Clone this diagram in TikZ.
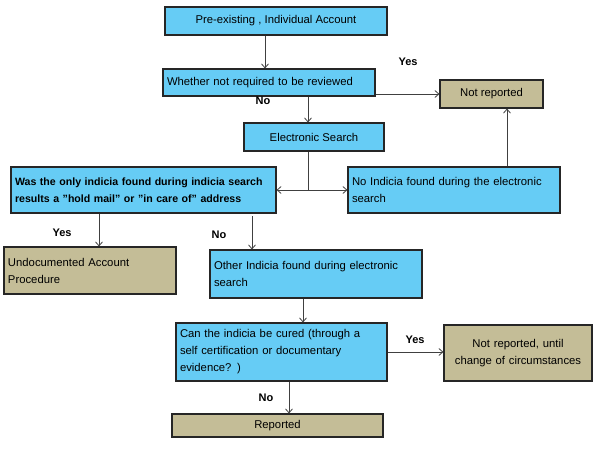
\documentclass[tikz,border=0pt]{standalone}
\usepackage{fontspec}
\setmainfont{Liberation Sans}
\usetikzlibrary{arrows.meta}
\definecolor{bl}{RGB}{102,204,245}
\definecolor{tn}{RGB}{196,189,151}
\begin{document}
\begin{tikzpicture}[x=1pt,y=-1pt,
  box/.style={draw=black!85,line width=1.1pt,inner sep=4pt,font=\fontsize{11.3}{17}\selectfont},
  bbox/.style={box,fill=bl},
  tbox/.style={box,fill=tn},
  arr/.style={draw=black!75,line width=0.8pt,-{Straight Barb[length=4pt,width=7pt]}},
  lab/.style={font=\fontsize{11}{13}\selectfont\bfseries}]
\useasboundingbox (0,0) rectangle (600,452);
\node[bbox,minimum width=222,minimum height=28] (pre) at (276,21) {Pre-existing , Individual Account};
\node[bbox,minimum width=212,minimum height=27,text width=204,align=left] (wh) at (269,82.5) {Whether not required to be reviewed};
\node[tbox,minimum width=103,minimum height=28] (nr) at (491.5,94) {Not reported};
\node[bbox,minimum width=140,minimum height=28] (es) at (314,137) {Electronic Search};
\node[bbox,minimum width=263,minimum height=46,text width=257,align=left,font=\fontsize{10.6}{17}\selectfont\bfseries] (was) at (143.5,190) {Was the only indicia found during indicia search\\results a "hold mail" or "in care of" address};
\node[bbox,minimum width=212,minimum height=46,text width=204,align=left] (noi) at (454,190) {No Indicia found during the electronic\\search};
\node[tbox,minimum width=170,minimum height=47,text width=164,align=left] (und) at (90,270.5) {Undocumented Account\\Procedure};
\node[bbox,minimum width=212,minimum height=48,text width=204,align=left] (oth) at (316,274) {Other Indicia found during electronic\\search};
\node[bbox,minimum width=211,minimum height=58,text width=203,align=left] (can) at (281.5,352) {Can the indicia be cured (through a\\self certification or documentary\\evidence? )};
\node[tbox,minimum width=144,minimum height=56,text width=140,align=center] (nru) at (518,353) {Not reported, until\\change of circumstances};
\node[tbox,minimum width=211,minimum height=23] (rep) at (277.5,425.5) {Reported};
\coordinate (j) at (308,190);
\draw[arr] (265,0 |- pre.south) -- (265,0 |- wh.north);
\draw[arr] (308,0 |- wh.south) -- (308,0 |- es.north);
\draw[arr] (wh.east |- 0,94) -- (nr.west |- 0,94);
\draw[draw=black!75,line width=0.8pt] (308,0 |- es.south) -- (j);
\draw[arr] (j) -- (was.east |- j);
\draw[arr] (j) -- (noi.west |- j);
\draw[arr] (507,0 |- noi.north) -- (507,0 |- nr.south);
\draw[arr] (99,0 |- was.south) -- (99,0 |- und.north);
\draw[arr] (252,216) -- (252,0 |- oth.north);
\draw[arr] (303,0 |- oth.south) -- (303,0 |- can.north);
\draw[arr] (can.east |- 0,352) -- (nru.west |- 0,352);
\draw[arr] (289,0 |- can.south) -- (289,0 |- rep.north);
\node[lab] (l1) at (408,62) {Yes};
\node[lab] (l2) at (263,101) {No};
\node[lab] (l3) at (62,233) {Yes};
\node[lab] (l4) at (219,235) {No};
\node[lab] (l5) at (415,340) {Yes};
\node[lab] (l6) at (266,398) {No};
\end{tikzpicture}
\end{document}
